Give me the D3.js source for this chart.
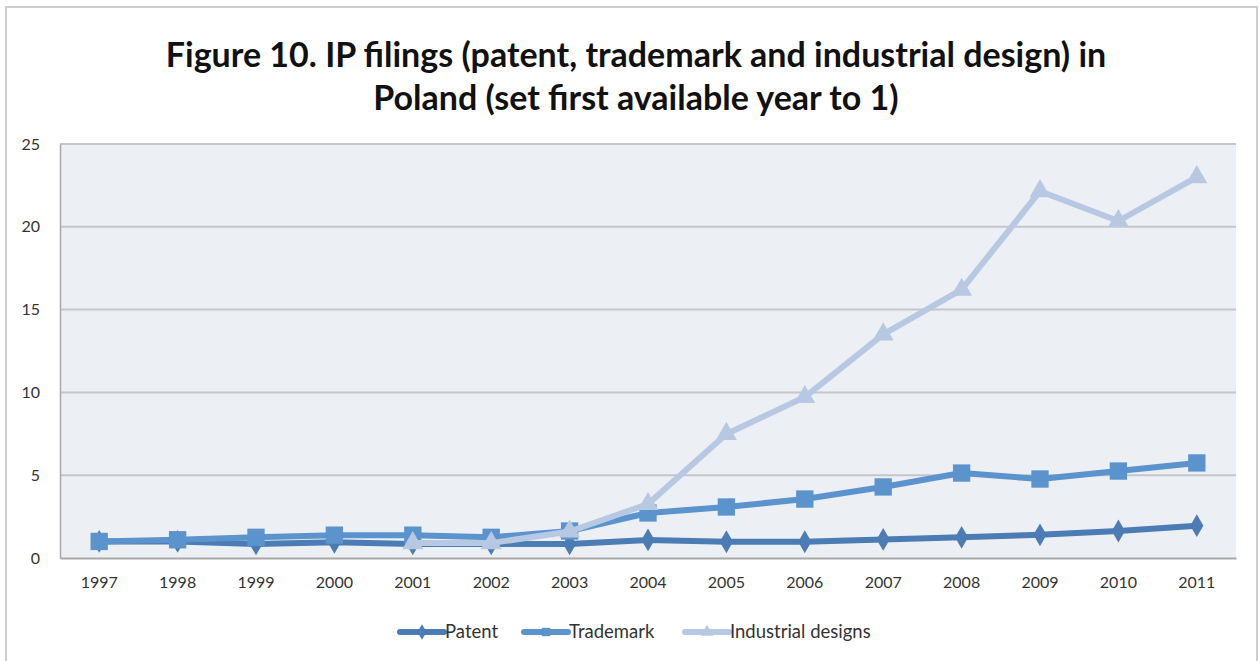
<!DOCTYPE html>
<html lang="en">
<head>
    <meta charset="UTF-8">
    <title>IP filings in Poland</title>
    <script src="https://d3js.org/d3.v7.min.js"></script>
    <style>
        body {
            margin: 0;
            padding: 0;
            background-color: #fff;
            font-family: Lato, "Open Sans", sans-serif;
        }
        svg {
            display: block;
        }
    </style>
</head>
<body>
    <div id="chart"></div>

    <script>
        // data (first available year = 1)
        const years = ["1997", "1998", "1999", "2000", "2001", "2002", "2003", "2004",
                       "2005", "2006", "2007", "2008", "2009", "2010", "2011"];
        const patent = [1.0, 1.0, 0.85, 0.95, 0.85, 0.85, 0.85, 1.09, 0.98, 0.98, 1.12, 1.25, 1.4, 1.63, 1.95];
        const trademark = [1.0, 1.1, 1.25, 1.38, 1.38, 1.25, 1.63, 2.72, 3.08, 3.56, 4.29, 5.13, 4.77, 5.25, 5.74];
        const industrial = [null, null, null, null, 0.9, 0.9, 1.6, 3.26, 7.49, 9.72, 13.5, 16.2, 22.15, 20.35, 23.0];
        const yTicks = [0, 5, 10, 15, 20, 25];

        const series = [
            { name: "Patent", values: patent, color: "#4b7cb3", marker: "diamond" },
            { name: "Trademark", values: trademark, color: "#5b93cc", marker: "square" },
            { name: "Industrial designs", values: industrial, color: "#b7c9e2", marker: "triangle" }
        ];

        const width = 1260, height = 661;
        const plot = { left: 60, top: 144, right: 1236, bottom: 558 };

        const svg = d3.select("#chart")
            .append("svg")
            .attr("width", width)
            .attr("height", height);

        // outer frame
        svg.append("path")
            .attr("d", `M6,${height} V7 H1257 V${height}`)
            .attr("fill", "none")
            .attr("stroke", "#cfcfcf")
            .attr("stroke-width", 2);

        // title
        const title = svg.append("text")
            .attr("text-anchor", "middle")
            .attr("font-weight", "bold")
            .attr("font-size", 34)
            .attr("fill", "#111");
        title.append("tspan").attr("x", 636).attr("y", 67)
            .text("Figure 10. IP filings (patent, trademark and industrial design) in");
        title.append("tspan").attr("x", 636).attr("y", 110)
            .text("Poland (set first available year to 1)");

        const x = d3.scaleBand()
            .domain(years)
            .range([plot.left, plot.right]);

        const y = d3.scaleLinear()
            .domain([0, 25])
            .range([plot.bottom, plot.top]);

        // plot background
        svg.append("rect")
            .attr("x", plot.left)
            .attr("y", plot.top)
            .attr("width", plot.right - plot.left)
            .attr("height", plot.bottom - plot.top)
            .attr("fill", "#eceff4");

        // gridlines
        svg.append("g")
            .selectAll("line")
            .data(yTicks.filter(d => d > 0))
            .enter()
            .append("line")
            .attr("x1", plot.left)
            .attr("x2", plot.right)
            .attr("y1", d => y(d))
            .attr("y2", d => y(d))
            .attr("stroke", "#c4c6c9")
            .attr("stroke-width", 2);

        // y axis
        const yAxis = svg.append("g")
            .attr("transform", `translate(${plot.left},0)`)
            .call(d3.axisLeft(y).tickValues(yTicks).tickSize(0).tickPadding(20));
        yAxis.select(".domain").attr("stroke", "#a8a8a8").attr("stroke-width", 1.5);
        yAxis.selectAll("text").attr("font-size", 16).attr("fill", "#333")
            .attr("font-family", "Lato, sans-serif");

        // x axis
        const xAxis = svg.append("g")
            .attr("transform", `translate(0,${plot.bottom})`)
            .call(d3.axisBottom(x).tickSize(0).tickPadding(19));
        xAxis.select(".domain").attr("stroke", "#a8a8a8").attr("stroke-width", 2);
        xAxis.selectAll("text").attr("font-size", 16).attr("fill", "#333")
            .attr("font-family", "Lato, sans-serif");

        const cx = (d, i) => x(years[i]) + x.bandwidth() / 2;

        const line = d3.line()
            .defined(d => d != null)
            .x((d, i) => cx(d, i))
            .y(d => y(d));

        const symbolFor = {
            diamond: d3.symbol().type(d3.symbolDiamond).size(150),
            square: d3.symbol().type(d3.symbolSquare).size(300),
            triangle: d3.symbol().type(d3.symbolTriangle).size(190)
        };

        series.forEach(s => {
            const g = svg.append("g");
            g.append("path")
                .datum(s.values)
                .attr("d", line)
                .attr("fill", "none")
                .attr("stroke", s.color)
                .attr("stroke-width", 6)
                .attr("stroke-linejoin", "round");

            g.selectAll("path.marker")
                .data(s.values.map((v, i) => ({ v, i })).filter(d => d.v != null))
                .enter()
                .append("path")
                .attr("class", "marker")
                .attr("d", symbolFor[s.marker])
                .attr("transform", d => `translate(${cx(null, d.i)},${y(d.v)})`)
                .attr("fill", s.color);
        });

        // legend
        const legendItems = [
            { x: 400, label: 0 },
            { x: 524, label: 1 },
            { x: 685, label: 2 }
        ];
        const legendY = 632;
        legendItems.forEach(item => {
            const s = series[item.label];
            const g = svg.append("g").attr("transform", `translate(${item.x},${legendY})`);
            g.append("line")
                .attr("x1", 0).attr("x2", 44)
                .attr("stroke", s.color)
                .attr("stroke-width", 6)
                .attr("stroke-linecap", "round");
            g.append("path")
                .attr("d", d3.symbol().type(
                    s.marker === "diamond" ? d3.symbolDiamond :
                    s.marker === "square" ? d3.symbolSquare : d3.symbolTriangle
                ).size(70))
                .attr("transform", "translate(22,0)")
                .attr("fill", s.color);
            g.append("text")
                .attr("x", 45)
                .attr("dy", "0.35em")
                .attr("font-size", 18.5)
                .attr("fill", "#333")
                .text(s.name);
        });
    </script>
</body>
</html>
